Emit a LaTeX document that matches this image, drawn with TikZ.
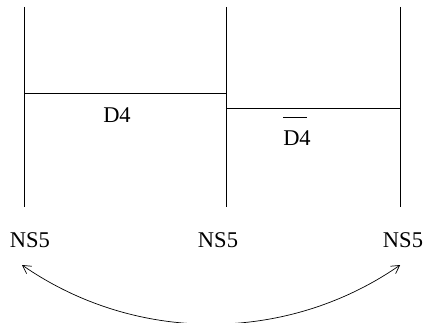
\documentclass[tikz,border=0pt]{standalone}
\usepackage{fontspec}
\setmainfont{Liberation Serif}
\usetikzlibrary{arrows.meta}
\begin{document}
\begin{tikzpicture}[x=1pt,y=1pt,
  brane/.style={line width=0.8pt},
  lbl/.style={inner sep=0pt,anchor=base,font=\fontsize{22.5}{27}\selectfont},
  motion/.style={line width=0.7pt,{Straight Barb[length=8pt,width=9pt]}-{Straight Barb[length=8pt,width=9pt]}}]
\useasboundingbox (0,0) rectangle (426,322);
\clip (0,0) rectangle (426,322);
% NS5 branes
\coordinate (ta) at (24,315); \coordinate (ba) at (24,115);
\coordinate (tb) at (226,315); \coordinate (bb) at (226,115);
\coordinate (tc) at (400,315); \coordinate (bc) at (400,115);
\draw[brane] (ta) -- (ba);
\draw[brane] (tb) -- (bb);
\draw[brane] (tc) -- (bc);
% D4 branes
\coordinate (d1) at (24,229); \coordinate (d2) at (226,229);
\coordinate (e1) at (226,214); \coordinate (e2) at (400,214);
\draw[brane] (d1) -- (d2);
\draw[brane] (e1) -- (e2);
\node[lbl] (d4) at (117,200) {D4};
\node[lbl] (d4b) at (297,177) {\rlap{\rule[27.5pt]{24pt}{0.8pt}}D4};
% labels
\node[lbl] (na) at (30,75) {NS5};
\node[lbl] (nb) at (218,75) {NS5};
\node[lbl] (nc) at (403,75) {NS5};
% motion arc
\coordinate (al) at (22,57);
\draw[motion] (al) arc[start angle=235.3, end angle=304.7, radius=332.2];
\end{tikzpicture}
\end{document}
